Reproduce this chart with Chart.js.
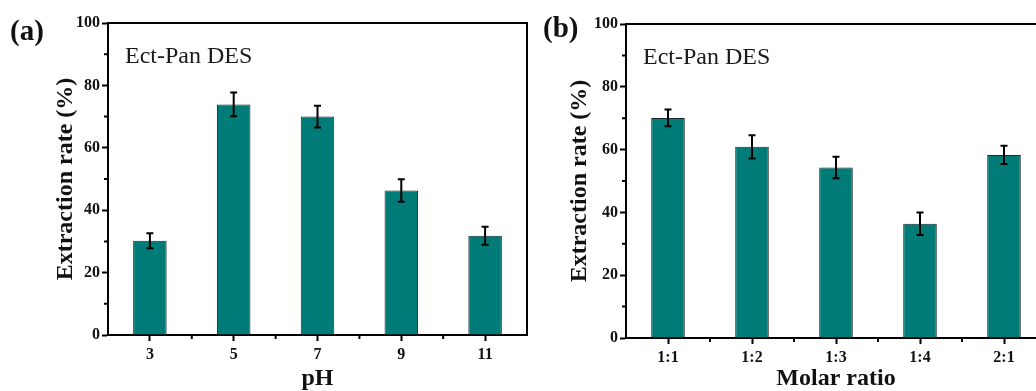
<!DOCTYPE html>
<html>
<head>
<meta charset="utf-8">
<script src="https://cdn.jsdelivr.net/npm/chart.js@4.4.1/dist/chart.umd.min.js"></script>
<style>
  body { margin:0; background:#fff; overflow:hidden; }
  #wrap { position:relative; width:1036px; height:391px; overflow:hidden; background:#fff; }
  .cv { position:absolute; top:0; }
  .tag { position:absolute; font:bold 29px "Liberation Serif", serif; line-height:29px; color:#111; z-index:2; }
</style>
</head>
<body>
<div id="wrap">
  <canvas id="chartA" class="cv" style="left:0px" width="540" height="391"></canvas>
  <canvas id="chartB" class="cv" style="left:520px" width="540" height="391"></canvas>
  <div class="tag" style="left:10px;top:16px">(a)</div>
  <div class="tag" style="left:543px;top:13px">(b)</div>
</div>
<script>
// 데이터
const phLabels = ['3', '5', '7', '9', '11'];
const phRate   = [30.2, 73.9, 70.0, 46.3, 31.8];
const phErr    = [2.4, 3.8, 3.5, 3.6, 2.9];

const ratioLabels = ['1:1', '1:2', '1:3', '1:4', '2:1'];
const ratioRate   = [70.1, 60.9, 54.3, 36.4, 58.3];
const ratioErr    = [2.7, 3.7, 3.4, 3.6, 2.9];

const yMin = 0, yMax = 100, yStep = 20;
const yMinor = [10, 30, 50, 70, 90];

const barColor = '#007b77';
const serif = '"Liberation Serif", "Times New Roman", serif';

// 에러바, 위/오른쪽 테두리, 보조 눈금, 안쪽 글씨
const panelDeco = {
  id: 'panelDeco',
  afterDatasetsDraw(chart, args, opts) {
    const { ctx, chartArea: a, scales: { x, y } } = chart;
    const bars = chart.getDatasetMeta(0).data;
    const vals = chart.data.datasets[0].data;
    ctx.save();
    ctx.strokeStyle = '#000';
    ctx.lineWidth = 2;

    bars.forEach((bar, i) => {
      const yt = y.getPixelForValue(vals[i] + opts.errs[i]);
      const yb = y.getPixelForValue(vals[i] - opts.errs[i]);
      ctx.beginPath();
      ctx.moveTo(bar.x, yt); ctx.lineTo(bar.x, yb);
      ctx.moveTo(bar.x - 3.5, yt); ctx.lineTo(bar.x + 3.5, yt);
      ctx.moveTo(bar.x - 3.5, yb); ctx.lineTo(bar.x + 3.5, yb);
      ctx.stroke();
    });

    ctx.beginPath();
    ctx.moveTo(a.left, a.top);
    ctx.lineTo(a.right, a.top);
    ctx.lineTo(a.right, a.bottom);
    ctx.stroke();

    // minor ticks
    ctx.beginPath();
    for (let i = 0; i < bars.length - 1; i++) {
      const mx = x.getPixelForValue(i + 0.5);
      ctx.moveTo(mx, a.bottom); ctx.lineTo(mx, a.bottom + 4);
    }
    yMinor.forEach(v => {
      const my = y.getPixelForValue(v);
      ctx.moveTo(a.left, my); ctx.lineTo(a.left - 4, my);
    });
    ctx.stroke();

    ctx.fillStyle = '#1a1a1a';
    ctx.font = '24px ' + serif;
    ctx.textBaseline = 'alphabetic';
    ctx.textAlign = 'left';
    ctx.fillText(opts.note, a.left + 17, a.top + 40);
    ctx.restore();
  }
};

function makeChart(id, labels, values, errs, xTitle, box) {
  return new Chart(document.getElementById(id), {
    type: 'bar',
    data: {
      labels: labels,
      datasets: [{
        data: values,
        backgroundColor: barColor,
        borderColor: '#1b2b2b',
        borderWidth: 1,
        categoryPercentage: 1,
        barPercentage: 0.4
      }]
    },
    options: {
      responsive: false,
      animation: false,
      layout: { padding: { left: box.padL, top: box.padT, right: box.padR, bottom: 0 } },
      plugins: {
        legend: { display: false },
        tooltip: { enabled: false },
        panelDeco: { errs: errs, note: 'Ect-Pan DES' }
      },
      scales: {
        x: {
          offset: true,
          grid: { display: true, offset: false, drawOnChartArea: false, tickLength: 6, tickWidth: 2, tickColor: '#000' },
          border: { color: '#000', width: 2 },
          ticks: { color: '#111', padding: 4, font: { family: serif, size: 16, weight: 'bold' } },
          title: { display: true, text: xTitle, color: '#111', padding: 0,
                   font: { family: serif, size: 24, weight: 'bold', lineHeight: 1 } },
          afterFit: s => { s.height = box.xh; }
        },
        y: {
          min: yMin, max: yMax,
          ticks: { stepSize: yStep, color: '#111', padding: 2, font: { family: serif, size: 16, weight: 'bold' } },
          grid: { display: true, drawOnChartArea: false, tickLength: 6, tickWidth: 2, tickColor: '#000' },
          border: { color: '#000', width: 2 },
          title: { display: true, text: 'Extraction rate (%)', color: '#111', padding: 0,
                   font: { family: serif, size: 24, weight: 'bold', lineHeight: 1 } },
          afterFit: s => { s.width = box.yw; }
        }
      }
    },
    plugins: [panelDeco]
  });
}

makeChart('chartA', phLabels, phRate, phErr, 'pH', { padL: 54, padT: 23, padR: 13, yw: 54, xh: 56 });
makeChart('chartB', ratioLabels, ratioRate, ratioErr, 'Molar ratio', { padL: 48, padT: 24, padR: 14, yw: 58, xh: 53 });
</script>
</body>
</html>
